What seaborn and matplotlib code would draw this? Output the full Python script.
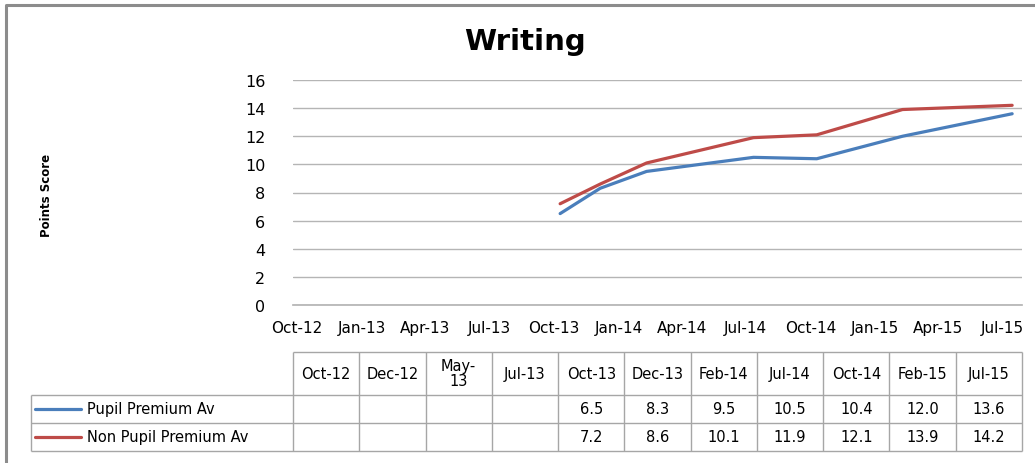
import matplotlib
matplotlib.use("Agg")
import matplotlib.pyplot as plt
import matplotlib.dates as mdates
import pandas as pd
import seaborn as sns

# Data
point_dates = ["2013-10-10", "2013-12-06", "2014-02-10", "2014-07-12",
               "2014-10-10", "2015-02-09", "2015-07-15"]
pupil_premium = [6.5, 8.3, 9.5, 10.5, 10.4, 12.0, 13.6]
non_pupil_premium = [7.2, 8.6, 10.1, 11.9, 12.1, 13.9, 14.2]

series_names = ["Pupil Premium Av", "Non Pupil Premium Av"]
series_colors = ["#4a7ebb", "#be4b48"]

# Data table columns (first four have no values)
table_headers = ["Oct-12", "Dec-12", "May-\n13", "Jul-13", "Oct-13", "Dec-13",
                 "Feb-14", "Jul-14", "Oct-14", "Feb-15", "Jul-15"]
table_pupil = [None, None, None, None] + pupil_premium
table_non_pupil = [None, None, None, None] + non_pupil_premium

tick_dates = pd.date_range("2012-10-01", "2015-07-01", freq="3MS")

sns.set_theme(style="white")
plt.rcParams["font.family"] = ["DejaVu Sans"]
plt.rcParams["text.color"] = "black"
plt.rcParams["xtick.color"] = "black"
plt.rcParams["ytick.color"] = "black"
narrow = ["Liberation Sans Narrow", "DejaVu Sans"]


def main():
    df = pd.DataFrame({
        "date": pd.to_datetime(point_dates * 2),
        "score": pupil_premium + non_pupil_premium,
        "series": [series_names[0]] * len(point_dates) + [series_names[1]] * len(point_dates),
    })

    W, H = 1035, 464
    fig = plt.figure(figsize=(W / 100, H / 100), dpi=100)

    ax = fig.add_axes([293 / W, 1 - 306 / H, (1022 - 293) / W, (306 - 81) / H])
    sns.lineplot(data=df, x="date", y="score", hue="series", palette=series_colors,
                 linewidth=2.3, legend=False, ax=ax)

    ax.set_xlim(pd.Timestamp("2012-09-25"), pd.Timestamp("2015-07-29"))
    ax.set_ylim(0, 16)
    ax.set_yticks(range(0, 17, 2))
    ax.set_xticks(tick_dates)
    ax.xaxis.set_major_formatter(mdates.DateFormatter("%b-%y"))
    ax.grid(axis="y", color="#b5b5b5", linewidth=1)
    ax.grid(axis="x", visible=False)
    for s in ["left", "right", "top"]:
        ax.spines[s].set_visible(False)
    ax.spines["bottom"].set_color("#b5b5b5")
    ax.tick_params(axis="y", length=0, pad=20, labelsize=11.5)
    ax.tick_params(axis="x", length=0, pad=11, labelsize=11)
    for lab in ax.get_yticklabels():
        lab.set_family(narrow)
    ax.set_xlabel("")
    ax.set_ylabel("")

    # Overlay in pixel coordinates for title, frame and data table
    ov = fig.add_axes([0, 0, 1, 1], zorder=-1)
    ov.set_xlim(0, W)
    ov.set_ylim(H, 0)
    ov.axis("off")

    ov.plot([6, 6, W + 5], [H + 5, 6, 6], color="#8c8c8c", linewidth=2.2)
    ov.text(525, 42, "Writing", ha="center", va="center", fontsize=21,
            fontweight="bold", family=narrow)
    ov.text(46, 195, "Points Score", ha="center", va="center", rotation=90,
            fontsize=8.5, fontweight="bold", family=narrow)

    # Data table
    left_lab, col0, colw = 31, 293, (1022 - 293) / 11
    y_head, y_r1, y_r2, y_bot = 353, 396, 424, 452
    col_x = [col0 + i * colw for i in range(12)]
    grid_c, lw = "#a6a6a6", 1.0
    ov.hlines(y_head, col0, col_x[-1], color=grid_c, linewidth=lw)
    ov.hlines([y_r1, y_r2, y_bot], left_lab, col_x[-1], color=grid_c, linewidth=lw)
    ov.vlines(col_x, y_head, y_bot, color=grid_c, linewidth=lw)
    ov.vlines(left_lab, y_r1, y_bot, color=grid_c, linewidth=lw)

    for i, hdr in enumerate(table_headers):
        cx = (col_x[i] + col_x[i + 1]) / 2
        ov.text(cx, (y_head + y_r1) / 2, hdr, ha="center", va="center",
                fontsize=10.5, linespacing=1.0)
    rows = [table_pupil, table_non_pupil]
    row_y = [(y_r1 + y_r2) / 2, (y_r2 + y_bot) / 2]
    for r, (vals, yy) in enumerate(zip(rows, row_y)):
        ov.plot([35, 81], [yy, yy], color=series_colors[r], linewidth=2.3)
        ov.text(87, yy, series_names[r], ha="left", va="center", fontsize=10.5)
        for i, v in enumerate(vals):
            if v is None:
                continue
            cx = (col_x[i] + col_x[i + 1]) / 2
            ov.text(cx, yy, f"{v:.1f}", ha="center", va="center", fontsize=10.5)

    fig.savefig("out.png", dpi=100, facecolor="white")


if __name__ == "__main__":
    main()
